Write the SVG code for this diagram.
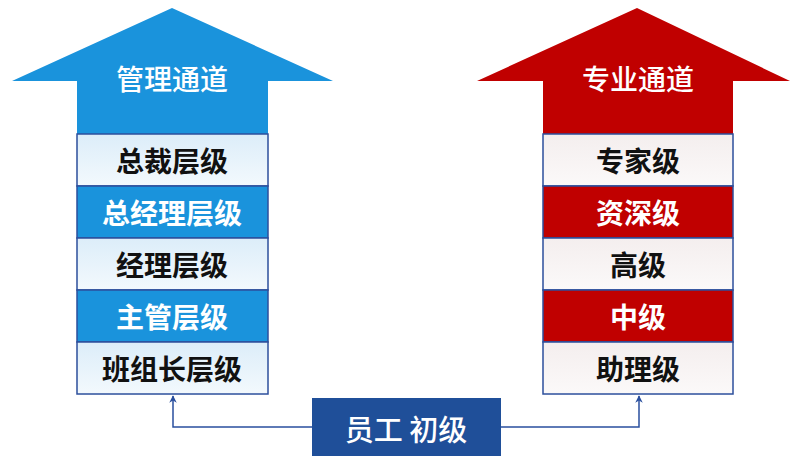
<svg xmlns="http://www.w3.org/2000/svg" width="791" height="456" viewBox="0 0 791 456">
<defs>
<linearGradient id="lb" x1="0" y1="0" x2="0" y2="1"><stop offset="0" stop-color="#dcedf9"/><stop offset="1" stop-color="#f3f9fd"/></linearGradient>
<linearGradient id="lr" x1="0" y1="0" x2="0" y2="1"><stop offset="0" stop-color="#f4eeee"/><stop offset="1" stop-color="#fbf9f9"/></linearGradient>
<marker id="ah" viewBox="0 0 10 10" refX="9" refY="5" markerWidth="5" markerHeight="5" orient="auto"><path d="M0,0 L10,5 L0,10 L3,5 Z" fill="#2a4f9e"/></marker>
</defs>
<style>
text{font-family:"Noto Sans CJK SC","Noto Sans",sans-serif;text-anchor:middle;dominant-baseline:central}
.t{font-size:28px;fill:#fff;font-weight:500}
.r{font-size:28px;font-weight:700}
.dk{fill:#111}
.wh{fill:#fff}
.rowb{stroke:#2c4f9c;stroke-width:1.5}
.bl{fill:#1a93dc}
.rd{fill:#c00000}
</style>
<rect width="791" height="456" fill="#fff"/>
<g id="mgmt">
<polygon class="bl" points="172,8 333,81 268,81 268,394 77,394 77,81 12,81"/>
<text class="t" x="172" y="78">管理通道</text>
</g>
<g id="mgmt-1"><rect class="rowb" x="77" y="134" width="191" height="52" fill="url(#lb)"/><text class="r dk" x="172" y="160">总裁层级</text></g>
<g id="mgmt-2"><rect class="rowb bl" x="77" y="186" width="191" height="52"/><text class="r wh" x="172" y="212">总经理层级</text></g>
<g id="mgmt-3"><rect class="rowb" x="77" y="238" width="191" height="52" fill="url(#lb)"/><text class="r dk" x="172" y="264">经理层级</text></g>
<g id="mgmt-4"><rect class="rowb bl" x="77" y="290" width="191" height="52"/><text class="r wh" x="172" y="316">主管层级</text></g>
<g id="mgmt-5"><rect class="rowb" x="77" y="342" width="191" height="52" fill="url(#lb)"/><text class="r dk" x="172" y="368">班组长层级</text></g>
<g id="prof">
<polygon class="rd" points="637,8 790,81 733,81 733,394 543,394 543,81 477,81"/>
<text class="t" x="638" y="78">专业通道</text>
</g>
<g id="prof-1"><rect class="rowb" x="543" y="134" width="190" height="52" fill="url(#lr)"/><text class="r dk" x="638" y="160">专家级</text></g>
<g id="prof-2"><rect class="rowb rd" x="543" y="186" width="190" height="52"/><text class="r wh" x="638" y="212">资深级</text></g>
<g id="prof-3"><rect class="rowb" x="543" y="238" width="190" height="52" fill="url(#lr)"/><text class="r dk" x="638" y="264">高级</text></g>
<g id="prof-4"><rect class="rowb rd" x="543" y="290" width="190" height="52"/><text class="r wh" x="638" y="316">中级</text></g>
<g id="prof-5"><rect class="rowb" x="543" y="342" width="190" height="52" fill="url(#lr)"/><text class="r dk" x="638" y="368">助理级</text></g>
<g id="employee"><rect x="312" y="398" width="189" height="60" fill="#1f4f99"/><text class="wh" x="406" y="428" style="font-size:29px;font-weight:500">员工 初级</text></g>
<g id="connectors" fill="none" stroke="#2a4f9e" stroke-width="1.5">
<path d="M312,427 H173 V396" marker-end="url(#ah)"/>
<path d="M501,427 H639 V396" marker-end="url(#ah)"/>
</g>
</svg>
